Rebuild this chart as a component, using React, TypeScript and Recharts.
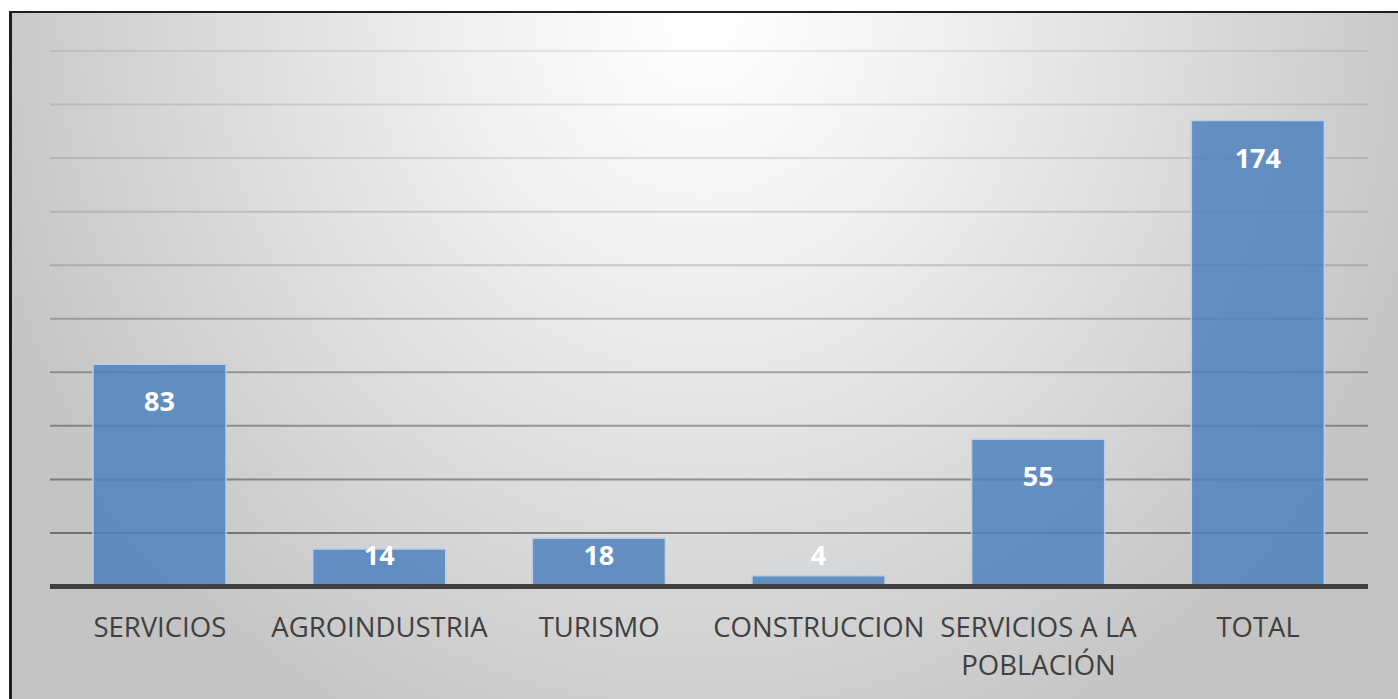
import React from 'react';
import { BarChart, Bar, XAxis, YAxis, CartesianGrid, LabelList } from 'recharts';

const categories = ['SERVICIOS', 'AGROINDUSTRIA', 'TURISMO', 'CONSTRUCCION', 'SERVICIOS A LA POBLACIÓN', 'TOTAL'];
const values = [83, 14, 18, 4, 55, 174];
const yTicks = [0, 20, 40, 60, 80, 100, 120, 140, 160, 180, 200];

const data = categories.map((c, i) => ({ name: c, value: values[i] }));

const W = 1398;
const H = 699;
const FONT = '"Open Sans", "Liberation Sans", sans-serif';

const gridStops: [number, number][] = [
  [51, 0.08],
  [158, 0.11],
  [265, 0.16],
  [372, 0.3],
  [480, 0.36],
  [533, 0.42],
];
function gridAlpha(y: number) {
  let a = gridStops[0][1];
  for (let i = 0; i < gridStops.length - 1; i++) {
    const [y0, a0] = gridStops[i];
    const [y1, a1] = gridStops[i + 1];
    if (y >= y0 && y <= y1) a = a0 + ((a1 - a0) * (y - y0)) / (y1 - y0);
    else if (y > y1) a = a1;
  }
  return a;
}

const GridLine = (props: any) => {
  const { x1, x2, y1, y2 } = props;
  if (Math.abs(y1 - 586.5) < 2) return <g />;
  return <line x1={x1} x2={x2} y1={y1} y2={y2} stroke="#000000" strokeOpacity={gridAlpha(y1)} strokeWidth={2} />;
};

function wrapWords(text: string, maxChars: number): string[] {
  const words = text.split(' ');
  const lines: string[] = [];
  let cur = '';
  for (const w of words) {
    const cand = cur ? cur + ' ' + w : w;
    if (cand.length > maxChars && cur) {
      lines.push(cur);
      cur = w;
    } else cur = cand;
  }
  if (cur) lines.push(cur);
  return lines;
}

const CategoryTick = (props: any) => {
  const { x, y, payload } = props;
  const lines = wrapWords(String(payload.value), 16);
  return (
    <text x={x} y={y} textAnchor="middle" fill="#404040" style={{ fontFamily: FONT, fontSize: 27.5 }}>
      {lines.map((l, i) => (
        <tspan key={i} x={x} y={y + 42 + i * 38}>
          {l}
        </tspan>
      ))}
    </text>
  );
};

const ValueLabel = (props: any) => {
  const { x, y, width, value } = props;
  const base = Math.min(y + 47, 565);
  return (
    <text
      x={x + width / 2}
      y={base}
      textAnchor="middle"
      fill="#ffffff"
      style={{ fontFamily: FONT, fontSize: 27, fontWeight: 700 }}
    >
      {value}
    </text>
  );
};

export default function App() {
  return (
    <div style={{ position: 'absolute', left: 0, top: 0, width: W, height: H, overflow: 'hidden', background: '#ffffff' }}>
      <div
        style={{
          position: 'absolute',
          left: 9,
          top: 11,
          width: W - 9,
          height: H - 11,
          boxSizing: 'border-box',
          borderTop: '2px solid #1e1e1e',
          borderLeft: '3px solid #1e1e1e',
          background: 'radial-gradient(ellipse 760px 820px at 691px 0px, #ffffff 0%, #f4f4f4 25%, #c4c4c4 100%)',
        }}
      />
      <div style={{ position: 'absolute', left: 0, top: 0 }}>
        <BarChart
          width={W}
          height={H}
          data={data}
          margin={{ top: 51, right: 30, bottom: 12.5, left: 50 }}
          barSize={133}
        >
          <CartesianGrid vertical={false} horizontal={GridLine} />
          <YAxis hide domain={[0, 200]} ticks={yTicks} type="number" />
          <XAxis
            dataKey="name"
            height={100}
            interval={0}
            tickLine={false}
            axisLine={{ stroke: '#404040', strokeWidth: 5 }}
            tick={<CategoryTick />}
          />
          <Bar
            dataKey="value"
            fill="#4F81BD"
            fillOpacity={0.85}
            stroke="#b9cde5"
            strokeWidth={1.5}
            isAnimationActive={false}
          >
            <LabelList dataKey="value" content={<ValueLabel />} />
          </Bar>
        </BarChart>
      </div>
    </div>
  );
}
